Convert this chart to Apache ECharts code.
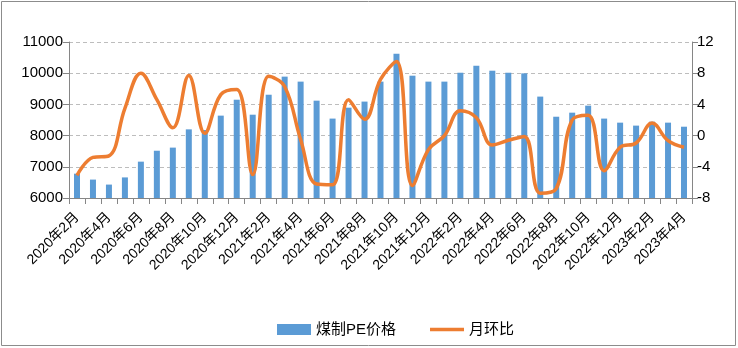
<!DOCTYPE html>
<html>
<head>
<meta charset="utf-8">
<script src="https://cdn.jsdelivr.net/npm/echarts@6/dist/echarts.min.js"></script>
<style>
  html, body { margin: 0; padding: 0; background: #fff; }
  #chart { width: 738px; height: 348px; }
</style>
</head>
<body>
<div id="chart"></div>
<script>
// Monthly categories, 2020-02 through 2023-04
const months = [
  '2020年2月','2020年3月','2020年4月','2020年5月','2020年6月','2020年7月','2020年8月','2020年9月','2020年10月','2020年11月','2020年12月',
  '2021年1月','2021年2月','2021年3月','2021年4月','2021年5月','2021年6月','2021年7月','2021年8月','2021年9月','2021年10月','2021年11月','2021年12月',
  '2022年1月','2022年2月','2022年3月','2022年4月','2022年5月','2022年6月','2022年7月','2022年8月','2022年9月','2022年10月','2022年11月','2022年12月',
  '2023年1月','2023年2月','2023年3月','2023年4月'
];

// Coal-to-PE price (left axis)
const pePrice = [
  6780, 6590, 6430, 6660, 7165, 7515, 7615, 8200, 8180, 8640, 9150,
  8670, 9310, 9890, 9730, 9120, 8545, 8895, 9090, 9730, 10625, 9920, 9730,
  9730, 10015, 10240, 10080, 10015, 9995, 9250, 8605, 8735, 8960, 8545, 8415,
  8320, 8445, 8415, 8285
];

// Month-on-month change, % (right axis)
const momChange = [
  -5.1, -2.8, -2.6, 3.5, 8.0, 4.6, 1.0, 7.7, 0.3, 5.25, 5.9,
  -5.0, 7.6, 6.3, -0.5, -6.2, -6.3, 4.6, 2.1, 7.2, 9.5, -6.4, -1.8,
  0.0, 3.2, 2.3, -1.2, -0.6, -0.1, -7.4, -6.8, 2.0, 2.6, -4.5, -1.5,
  -0.95, 1.6, -0.65, -1.5
];

const leftTicks = { min: 6000, max: 11000, step: 1000 };
const rightTicks = { min: -8, max: 12, step: 4 };

const font = '"Liberation Sans", "Noto Sans CJK SC", sans-serif';
const axisGray = '#868686';

const chart = echarts.init(document.getElementById('chart'), null, { renderer: 'canvas' });
chart.setOption({
  animation: false,
  backgroundColor: '#fff',
  textStyle: { fontFamily: font, color: '#000' },
  graphic: [{
    type: 'rect',
    shape: { x: 1.5, y: 1.5, width: 734, height: 344 },
    style: { fill: 'none', stroke: '#8c8c8c', lineWidth: 1 },
    silent: true
  }],
  grid: { left: 69, right: 46, top: 42, bottom: 150 },
  legend: {
    top: 317,
    left: 272,
    itemWidth: 34,
    itemHeight: 11,
    itemGap: 34,
    textStyle: { fontSize: 15, color: '#000', fontFamily: font },
    data: [
      { name: '煤制PE价格', icon: 'rect' },
      { name: '月环比', icon: 'path://M0,0H37V4H0Z' }
    ]
  },
  xAxis: {
    type: 'category',
    data: months,
    boundaryGap: true,
    axisLine: { onZero: false, lineStyle: { color: axisGray, width: 1 } },
    axisTick: { show: true, interval: 0, length: 6, lineStyle: { color: axisGray } },
    axisLabel: {
      interval: 1,
      rotate: 45,
      fontSize: 14,
      color: '#000',
      margin: 17,
      fontFamily: font
    }
  },
  yAxis: [
    {
      type: 'value',
      min: leftTicks.min,
      max: leftTicks.max,
      interval: leftTicks.step,
      axisLine: { show: true, lineStyle: { color: axisGray } },
      axisTick: { show: true, length: 6, lineStyle: { color: axisGray } },
      axisLabel: { fontSize: 15, color: '#000', margin: 6, fontFamily: font, formatter: v => String(v) },
      splitLine: { show: true, lineStyle: { color: '#bdbdbd', type: [4, 3], width: 1 } }
    },
    {
      type: 'value',
      min: rightTicks.min,
      max: rightTicks.max,
      interval: rightTicks.step,
      position: 'right',
      axisLine: { show: true, lineStyle: { color: axisGray } },
      axisTick: { show: true, length: 6, lineStyle: { color: axisGray } },
      axisLabel: { fontSize: 15, color: '#000', margin: 5, fontFamily: font, formatter: v => String(v) },
      splitLine: { show: false }
    }
  ],
  series: [
    {
      name: '煤制PE价格',
      type: 'bar',
      data: pePrice,
      barWidth: 6,
      itemStyle: { color: '#5B9BD5' }
    },
    {
      name: '月环比',
      type: 'line',
      yAxisIndex: 1,
      data: momChange,
      smooth: 0.4,
      symbol: 'none',
      lineStyle: { color: '#ED7D31', width: 3.5 },
      itemStyle: { color: '#ED7D31' }
    }
  ]
});
</script>
</body>
</html>
